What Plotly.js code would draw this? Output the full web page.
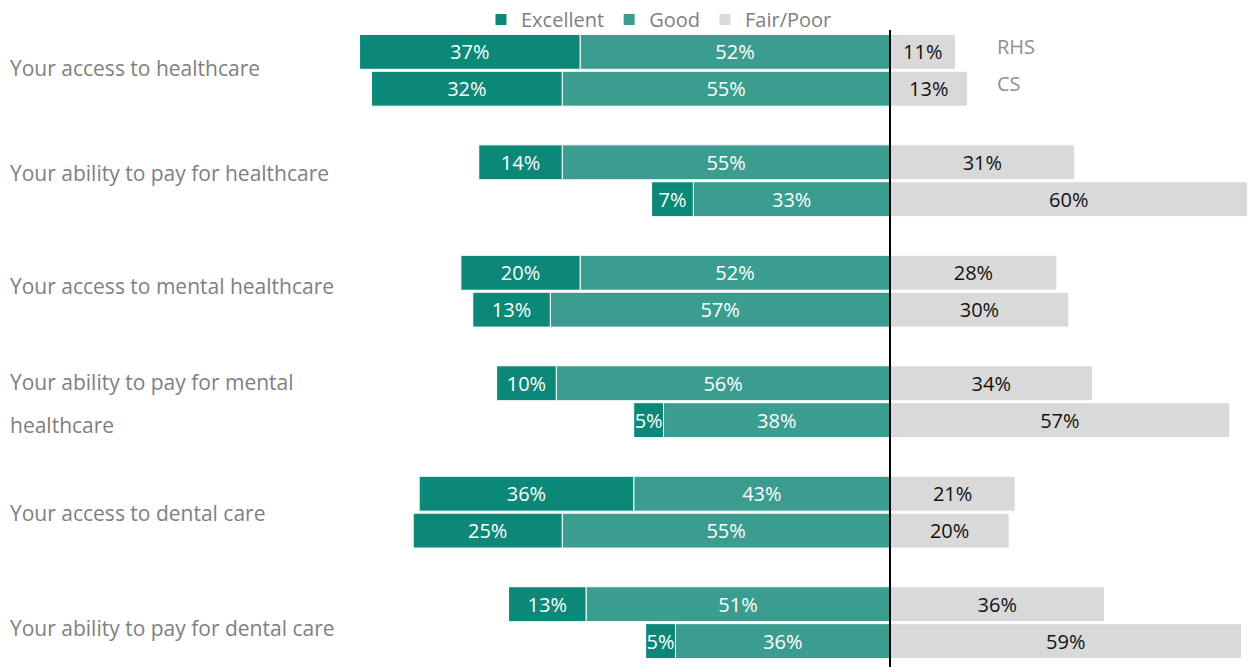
<!DOCTYPE html>
<html>
<head>
<meta charset="utf-8">
<script src="https://cdn.plot.ly/plotly-3.0.1.min.js"></script>
<style>html,body{margin:0;padding:0;background:#fff;}#chart{width:1249px;height:667px;}</style>
</head>
<body>
<div id="chart"></div>
<script>
const categories = [
  "Your access to healthcare",
  "Your ability to pay for healthcare",
  "Your access to mental healthcare",
  "Your ability to pay for mental<br>healthcare",
  "Your access to dental care",
  "Your ability to pay for dental care"
];
const groups = ["RHS", "CS"];
const excellentRHS = [37, 14, 20, 10, 36, 13];
const excellentCS  = [32, 7, 13, 5, 25, 5];
const goodRHS = [52, 55, 52, 56, 43, 51];
const goodCS  = [55, 33, 57, 38, 55, 36];
const fairRHS = [11, 31, 28, 34, 21, 36];
const fairCS  = [13, 60, 30, 57, 20, 59];

const colors = {excellent: "#0b8878", good: "#3a9d90", fair: "#d9d9d9"};
const W = 1249, H = 667;
const zeroPx = 890, pxPerPct = 5.96;
const groupStart = 68.5, groupStep = 110.8, barOffset = 18.5, barW = 35;
const labelShift = [-2, -8, -5, 2, 1, 5];

const ys = [], exc = [], good = [], fair = [];
categories.forEach((c, i) => {
  const gc = groupStart + i * groupStep;
  ys.push(gc - barOffset, gc + barOffset);
  exc.push(excellentRHS[i], excellentCS[i]);
  good.push(goodRHS[i], goodCS[i]);
  fair.push(fairRHS[i], fairCS[i]);
});

const font = "Open Sans, sans-serif";
function barTrace(name, vals, sign, color, txtColor, rank) {
  return {
    type: "bar", orientation: "h", name: name,
    x: vals.map(v => sign * v), y: ys, width: barW,
    marker: {color: color, line: {color: "#ffffff", width: 1}},
    text: vals.map(v => v + "%"), textposition: "inside", insidetextanchor: "middle",
    textangle: 0,
    textfont: {family: font, size: 20, color: txtColor},
    hoverinfo: "skip", legendrank: rank, cliponaxis: false
  };
}
const traces = [
  barTrace("Good", good, -1, colors.good, "#ffffff", 2),
  barTrace("Excellent", exc, -1, colors.excellent, "#ffffff", 1),
  barTrace("Fair/Poor", fair, 1, colors.fair, "#111111", 3)
];

const annotations = [];
categories.forEach((c, i) => {
  const gc = groupStart + i * groupStep + labelShift[i];
  const lines = c.split("<br>");
  const lh = 43;
  lines.forEach((ln, k) => {
    annotations.push({
      xref: "paper", x: 8 / W, xanchor: "left", yref: "y",
      y: gc + (k - (lines.length - 1) / 2) * lh, yanchor: "middle",
      text: ln, showarrow: false, font: {family: font, size: 21, color: "#808080"}
    });
  });
});
groups.forEach((g, k) => {
  annotations.push({
    xref: "paper", x: 995 / W, xanchor: "left", yref: "y",
    y: ys[k] - 5, yanchor: "middle", text: g, showarrow: false,
    font: {family: font, size: 20, color: "#909090"}
  });
});

const layout = {
  width: W, height: H,
  margin: {l: 0, r: 0, t: 0, b: 0},
  paper_bgcolor: "#ffffff", plot_bgcolor: "#ffffff",
  barmode: "relative", bargap: 0,
  showlegend: true,
  legend: {orientation: "h", x: 481 / W, xanchor: "left", y: 1.003, yanchor: "top",
    font: {family: font, size: 20, color: "#808080"}, traceorder: "normal",
    itemwidth: 30, bgcolor: "rgba(0,0,0,0)"},
  uniformtext: {minsize: 20, mode: "show"},
  xaxis: {range: [-zeroPx / pxPerPct, (W - zeroPx) / pxPerPct], visible: false, fixedrange: true},
  yaxis: {range: [H, 0], visible: false, fixedrange: true},
  shapes: [{type: "line", xref: "x", x0: 0, x1: 0, yref: "y", y0: 28, y1: H,
    line: {color: "#000000", width: 2}}],
  annotations: annotations
};
Plotly.newPlot("chart", traces, layout, {displayModeBar: false, staticPlot: true});
</script>
</body>
</html>
